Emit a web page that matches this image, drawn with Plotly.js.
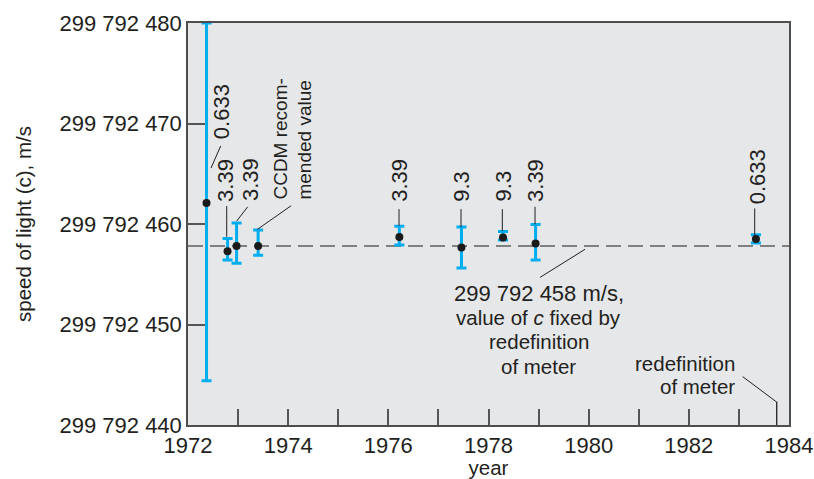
<!DOCTYPE html>
<html>
<head>
<meta charset="utf-8">
<script src="https://cdn.plot.ly/plotly-3.0.1.min.js"></script>
<style>html,body{margin:0;padding:0;background:#fff;}#chart{width:814px;height:479px;}</style>
</head>
<body>
<div id="chart"></div>
<script>
// Measurement years and measured speed of light (m/s)
const years = [1972.37, 1972.79, 1972.97, 1973.40, 1976.22, 1977.46, 1978.29, 1978.94, 1983.34];
const speeds = [299792462.1, 299792457.3, 299792457.8, 299792457.8, 299792458.7, 299792457.66, 299792458.65, 299792458.05, 299792458.5];
const errPlus = [17.9, 1.26, 2.3, 1.6, 1.07, 2.05, 0.6, 1.89, 0.43];
const errMinus = [17.7, 0.89, 1.7, 0.9, 0.79, 2.05, 0.23, 1.62, 0.40];
// wavelength labels (micrometres) for each measurement
const labels = ['0.633', '3.39', '3.39', 'CCDM recom-<br>mended value', '3.39', '9.3', '9.3', '3.39', '0.633'];
const fixedValue = 299792457.8;
const redefinitionYear = 1983.755;
const yTicks = [299792440, 299792450, 299792460, 299792470, 299792480];
const xTickLabels = ['1972', '1974', '1976', '1978', '1980', '1982', '1984'];
const fixedNote = ['299 792 458 m/s,', 'value of <i>c</i> fixed by', 'redefinition', 'of meter'];
const redefNote = ['redefinition', 'of meter'];

const FONT = 'Liberation Sans, Arial, sans-serif';
const TXT = '#231f20';
const base = 299792000;
const v = d => base + d;

// label placement (year of label centre, value of label bottom)
const labelX = [1972.67, 1972.75, 1973.25, 1974.10, 1976.22, 1977.46, 1978.29, 1978.94, 1983.36];
const labelY = [468.35, 462.1, 462.2, 462.3, 462.1, 462.1, 462.1, 462.1, 461.9];
// leader lines [x0, y0, x1, y1]
const leaders = [
  [1972.459, 465.56, 1972.653, 467.77],
  [1972.773, 458.73, 1972.773, 461.78],
  [1972.972, 460.29, 1973.192, 461.71],
  [1973.384, 459.46, 1974.057, 461.81],
  [1976.213, 459.82, 1976.213, 461.48],
  [1977.451, 459.69, 1977.451, 461.48],
  [1978.276, 459.29, 1978.276, 461.48],
  [1978.929, 459.96, 1978.929, 461.71],
  [1983.315, 458.90, 1983.315, 461.55],
  [1979.029, 454.69, 1979.927, 457.48],
  [1983.076, 444.81, 1983.741, 442.33]
];
const fixedNoteY = [453.1, 450.7, 448.29, 445.87];
const redefNoteY = [446.14, 443.82];

const trace = {
  x: years, y: speeds, type: 'scatter', mode: 'markers',
  marker: {color: '#1a1a1a', size: 8},
  error_y: {type: 'data', symmetric: false, array: errPlus, arrayminus: errMinus,
            color: '#00aeef', thickness: 3, width: 5},
  hoverinfo: 'x+y', cliponaxis: false
};

const shapes = [
  {type: 'line', xref: 'paper', yref: 'y', x0: 0, x1: 1, y0: fixedValue, y1: fixedValue,
   line: {color: '#808080', width: 2, dash: '15px,7px'}, layer: 'below'},
  {type: 'line', xref: 'x', yref: 'y', x0: redefinitionYear, x1: redefinitionYear, y0: v(440), y1: v(442.33),
   line: {color: '#231f20', width: 1.3}}
];
leaders.forEach(l => shapes.push({type: 'line', xref: 'x', yref: 'y', x0: l[0], y0: v(l[1]), x1: l[2], y1: v(l[3]),
  line: {color: '#231f20', width: 1}}));

const annotations = labels.map((t, i) => ({
  x: labelX[i], y: v(labelY[i]), xref: 'x', yref: 'y', text: t, showarrow: false,
  textangle: -90, xanchor: 'center', yanchor: 'bottom', align: 'left',
  font: {family: FONT, size: i === 3 ? 19 : 22, color: TXT}, borderpad: 0
}));
fixedNote.forEach((t, i) => annotations.push({
  x: 1979.0, y: v(fixedNoteY[i]), xref: 'x', yref: 'y', showarrow: false, text: t,
  xanchor: 'center', yanchor: 'middle', font: {family: FONT, size: i === 0 ? 22 : 20.5, color: TXT}
}));
redefNote.forEach((t, i) => annotations.push({
  x: 1982.96, y: v(redefNoteY[i]), xref: 'x', yref: 'y', showarrow: false, text: t,
  xanchor: 'right', yanchor: 'middle', font: {family: FONT, size: 20.5, color: TXT}
}));

const axisCommon = {
  showgrid: false, zeroline: false, showline: true, mirror: true, linecolor: '#4d4d4d', linewidth: 1.5,
  ticks: 'inside', tickwidth: 2, tickcolor: '#555555', automargin: false, layer: 'above traces',
  tickfont: {family: FONT, size: 22, color: TXT}
};

const layout = {
  width: 814, height: 479,
  margin: {l: 188, r: 25, t: 23, b: 54, pad: 0},
  paper_bgcolor: '#ffffff', plot_bgcolor: '#e6e7e9',
  separators: '. ',
  showlegend: false,
  font: {family: FONT, size: 21, color: TXT},
  xaxis: Object.assign({}, axisCommon, {
    range: [1972, 1984], tickmode: 'linear', tick0: Number(xTickLabels[0]), dtick: 2, ticklen: 16,
    minor: {tickmode: 'linear', tick0: 1972, dtick: 1, ticks: 'inside', ticklen: 16, tickwidth: 2, tickcolor: '#555555', showgrid: false},
    title: {text: 'year', font: {family: FONT, size: 20.5, color: TXT}, standoff: 3}
  }),
  yaxis: Object.assign({}, axisCommon, {
    range: [v(440), v(480)], tickmode: 'linear', tick0: yTicks[0], dtick: 10, tickformat: ',d', ticklen: 17,
    title: {text: 'speed of light (c), m/s', font: {family: FONT, size: 20.5, color: TXT}, standoff: 22}
  }),
  shapes: shapes,
  annotations: annotations
};

Plotly.newPlot('chart', [trace], layout, {displayModeBar: false, responsive: false});
</script>
</body>
</html>
